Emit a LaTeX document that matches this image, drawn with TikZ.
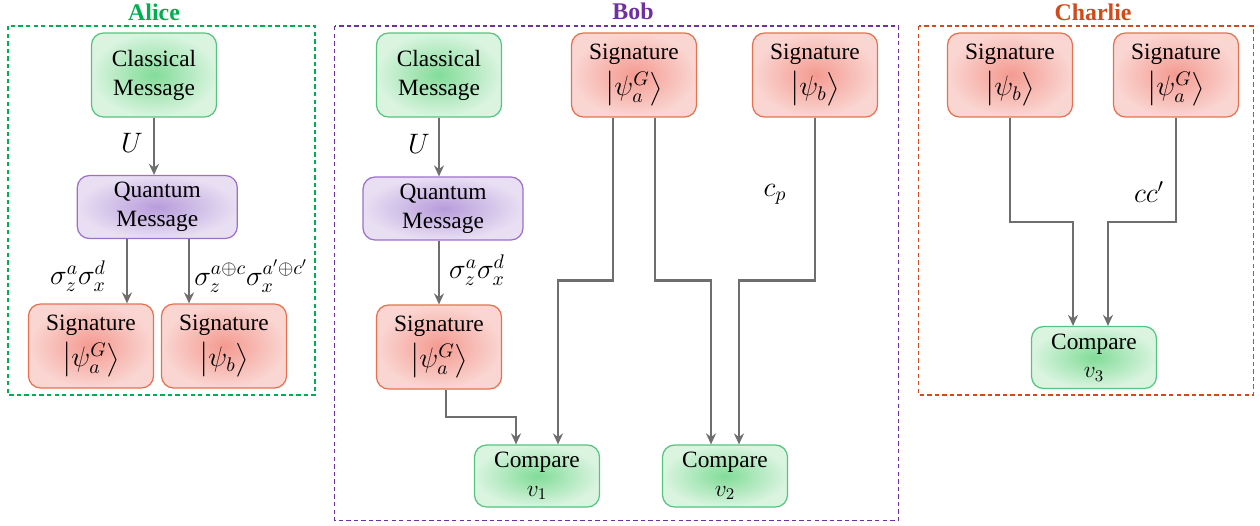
\RequirePackage{fix-cm}
\documentclass[tikz,border=0pt]{standalone}
\usepackage{amsmath,amssymb}
\usepackage{fontspec}
\setmainfont{Liberation Serif}
\usetikzlibrary{arrows.meta}
\definecolor{grnE}{HTML}{55C47F}
\definecolor{grnI}{HTML}{82DC98}
\definecolor{grnO}{HTML}{DAF4E0}
\definecolor{redE}{HTML}{E8704F}
\definecolor{redI}{HTML}{F49A90}
\definecolor{redO}{HTML}{FAD6D2}
\definecolor{purE}{HTML}{9D6FC9}
\definecolor{purI}{HTML}{B89CDB}
\definecolor{purO}{HTML}{E8DFF3}
\definecolor{lnC}{HTML}{6E6E6E}
\definecolor{aliceC}{HTML}{00B050}
\definecolor{bobC}{HTML}{7030A0}
\definecolor{charC}{HTML}{D04A1C}
\tikzset{
  >={Stealth[length=2.2mm,width=2mm]},
  bx/.style={draw,rounded corners=2.4mm,align=center,inner sep=0pt,line width=0.7pt,
    minimum width=2.5cm,minimum height=1.68cm,font=\fontsize{13.3}{16.5}\selectfont},
  gbx/.style={bx,draw=grnE,inner color=grnI,outer color=grnO},
  rbx/.style={bx,draw=redE,inner color=redI,outer color=redO},
  pbx/.style={bx,draw=purE,inner color=purI,outer color=purO,minimum width=3.2cm,minimum height=1.26cm},
  cmp/.style={gbx,minimum height=1.24cm},
  fr/.style={dash pattern=on 2.5pt off 1.8pt,line width=1pt},
  ttl/.style={font=\fontsize{13.6}{16}\selectfont\bfseries},
  lbl/.style={font=\fontsize{16}{18}\selectfont},
  ln/.style={draw=lnC,line width=1.2pt},
}
\newcommand{\sig}[1]{Signature\\[4pt]{\fontsize{16}{18}\selectfont$\bigl|#1\bigr\rangle$}}

\begin{document}
\begin{tikzpicture}[x=0.02cm,y=-0.02cm]
\useasboundingbox (0,0) rectangle (1260,525);
% frames
\draw[fr,aliceC] (8,26) rectangle (315,395);
\draw[fr,bobC] (334.5,26) rectangle (898.5,520.5);
\draw[fr,charC] (918.5,26) rectangle (1253.5,395);
\node[ttl,text=aliceC] (tA) at (154,12) {Alice};
\node[ttl,text=bobC] (tB) at (633,11) {Bob};
\node[ttl,text=charC] (tC) at (1093,12) {Charlie};

% Alice
\node[gbx] (acm) at (154,75) {Classical\\Message};
\node[pbx] (aqm) at (157.3,207) {Quantum\\Message};
\node[rbx] (asg) at (91,346) {\sig{\psi_a^G}};
\node[rbx] (asb) at (224,346) {\sig{\psi_b}};
\coordinate (ap1) at ([xshift=0.72cm]asg.north);
\coordinate (ap2) at ([xshift=-0.7cm]asb.north);
\draw[ln,->] (acm.south) -- (acm.south |- aqm.north);
\draw[ln,->] (ap1 |- aqm.south) -- (ap1);
\draw[ln,->] (ap2 |- aqm.south) -- (ap2);
\node[lbl] (aU) at (132,143) {$U$};
\node[lbl] (aL1) at (78,276) {$\sigma_z^a\sigma_x^d$};
\node[lbl] (aL2) at (251,276) {$\sigma_z^{a\oplus c}\sigma_x^{a'\oplus c'}$};

% Bob
\node[gbx] (bcm) at (439,75) {Classical\\Message};
\node[pbx] (bqm) at (443,208.5) {Quantum\\Message};
\node[rbx] (bsg) at (439,347) {\sig{\psi_a^G}};
\node[rbx] (bsa) at (634,75) {\sig{\psi_a^G}};
\node[rbx] (bsb) at (815,75) {\sig{\psi_b}};
\node[cmp] (bv1) at (537,476) {Compare\\$v_1$};
\node[cmp] (bv2) at (725,476) {Compare\\$v_2$};
\coordinate (bk1) at (0,417);
\coordinate (bk2) at (0,280.5);
\coordinate (bo1) at ([xshift=0.14cm]bsg.south);
\coordinate (bo2) at ([xshift=-0.42cm]bsa.south);
\coordinate (bo3) at ([xshift=0.42cm]bsa.south);
\coordinate (bi1) at ([xshift=-0.42cm]bv1.north);
\coordinate (bi2) at ([xshift=0.42cm]bv1.north);
\coordinate (bi3) at ([xshift=-0.28cm]bv2.north);
\coordinate (bi4) at ([xshift=0.28cm]bv2.north);
\draw[ln,->] (bcm.south) -- (bcm.south |- bqm.north);
\draw[ln,->] (bsg.north |- bqm.south) -- (bsg.north);
\draw[ln,->] (bo1) |- (bi1 |- bk1) -- (bi1);
\draw[ln,->] (bo2) |- (bi2 |- bk2) -- (bi2);
\draw[ln,->] (bo3) |- (bi3 |- bk2) -- (bi3);
\draw[ln,->] (bsb.south) |- (bi4 |- bk2) -- (bi4);
\node[lbl] (bU) at (419,144) {$U$};
\node[lbl] (bL1) at (477,270) {$\sigma_z^a\sigma_x^d$};
\node[lbl] (bcp) at (775,194) {$c_p$};

% Charlie
\node[rbx] (csb) at (1010,75) {\sig{\psi_b}};
\node[rbx] (csa) at (1176,75) {\sig{\psi_a^G}};
\node[cmp] (cv3) at (1094,357.5) {Compare\\$v_3$};
\coordinate (ck1) at (0,221.7);
\coordinate (ci1) at ([xshift=-0.42cm]cv3.north);
\coordinate (ci2) at ([xshift=0.28cm]cv3.north);
\draw[ln,->] (csb.south) |- (ci1 |- ck1) -- (ci1);
\draw[ln,->] (csa.south) |- (ci2 |- ck1) -- (ci2);
\node[lbl] (ccc) at (1149,192) {$cc'$};
\end{tikzpicture}
\end{document}
